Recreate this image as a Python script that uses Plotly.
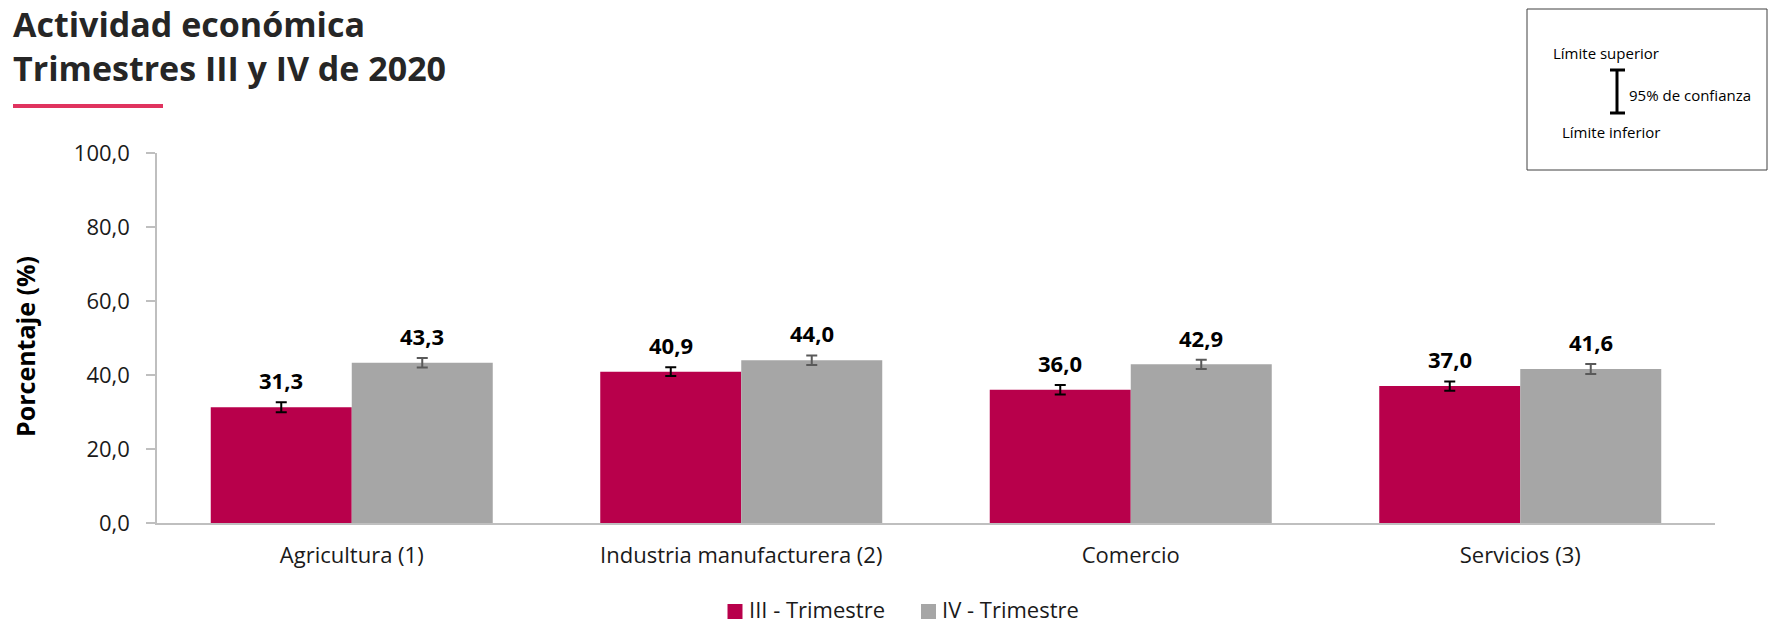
import plotly.graph_objects as go

categories = ["Agricultura (1)", "Industria manufacturera (2)", "Comercio", "Servicios (3)"]
series_names = ["III - Trimestre", "IV - Trimestre"]
values_iii = [31.3, 40.9, 36.0, 37.0]
values_iv = [43.3, 44.0, 42.9, 41.6]
err_iii = [1.35, 1.2, 1.3, 1.25]
err_iv = [1.27, 1.3, 1.25, 1.35]
y_ticks = [0, 20, 40, 60, 80, 100]

W, H = 1770, 623
L, R, T, B = 157, 55, 153, 100
PW, PH = W - L - R, H - T - B

def px(x):
    return (x - L) / PW

def py(y):
    return (H - B - y) / PH

RED = "#B8004B"
GREY = "#A6A6A6"
FONT = "Open Sans, Noto Sans, sans-serif"

fig = go.Figure()
fig.add_trace(go.Bar(
    x=categories, y=values_iii, name=series_names[0],
    marker=dict(color=RED, line=dict(width=0)),
    error_y=dict(type="data", array=err_iii, visible=True, color="#000000", thickness=2, width=5.5),
))
fig.add_trace(go.Bar(
    x=categories, y=values_iv, name=series_names[1],
    marker=dict(color=GREY, line=dict(width=0)),
    error_y=dict(type="data", array=err_iv, visible=True, color="#595959", thickness=2, width=5.5),
))

bar_px = (1 - 0.276) / 2 * PW / len(categories)
annotations = []
for vals, errs, shift in [(values_iii, err_iii, -bar_px / 2), (values_iv, err_iv, bar_px / 2)]:
    for c, v, e in zip(categories, vals, errs):
        annotations.append(dict(
            x=c, y=v + e, xref="x", yref="y", text=f"{v:.1f}".replace(".", ","),
            showarrow=False, xshift=shift, yshift=5, yanchor="bottom",
            font=dict(family=FONT, size=22, color="#000000", weight="bold"),
        ))

# Title (two lines)
annotations.append(dict(
    xref="paper", yref="paper", x=px(11), y=py(46.5), xanchor="left", yanchor="middle",
    text="Actividad económica<br>Trimestres III y IV de 2020", align="left", showarrow=False,
    font=dict(family=FONT, size=34, color="#262626", weight="bold"),
))
# Y axis title
annotations.append(dict(
    xref="paper", yref="paper", x=px(25), y=py(347), xanchor="center", yanchor="middle",
    text="Porcentaje (%)", textangle=-90, showarrow=False,
    font=dict(family=FONT, size=25, color="#000000", weight="bold"),
))
# Confidence-interval key box texts
key_font = dict(family=FONT, size=15, color="#000000")
annotations += [
    dict(xref="paper", yref="paper", x=px(1551), y=py(53), xanchor="left", yanchor="middle",
         text="Límite superior", showarrow=False, font=key_font),
    dict(xref="paper", yref="paper", x=px(1627), y=py(95), xanchor="left", yanchor="middle",
         text="95% de confianza", showarrow=False, font=key_font),
    dict(xref="paper", yref="paper", x=px(1560), y=py(132), xanchor="left", yanchor="middle",
         text="Límite inferior", showarrow=False, font=key_font),
]
# Custom legend
legend_font = dict(family=FONT, size=22, color="#1a1a1a")
legend_items = [(series_names[0], RED, 727.5), (series_names[1], GREY, 921)]
shapes = []
for name, col, x0 in legend_items:
    shapes.append(dict(type="rect", xref="paper", yref="paper", x0=px(x0), x1=px(x0 + 15),
                       y0=py(604), y1=py(619), fillcolor=col, line=dict(width=0)))
    annotations.append(dict(xref="paper", yref="paper", x=px(x0 + 19), y=py(608.5), xanchor="left",
                            yanchor="middle", text=name, showarrow=False, font=legend_font))

shapes += [
    # red underline under title
    dict(type="rect", xref="paper", yref="paper", x0=px(13), x1=px(163), y0=py(104), y1=py(108),
         fillcolor="#E0335F", line=dict(width=0)),
    # key box
    dict(type="rect", xref="paper", yref="paper", x0=px(1527), x1=px(1767), y0=py(9), y1=py(170),
         line=dict(color="#404040", width=1), fillcolor="rgba(0,0,0,0)"),
    # I-beam
    dict(type="line", xref="paper", yref="paper", x0=px(1617), x1=px(1617), y0=py(70), y1=py(113),
         line=dict(color="#000000", width=3)),
    dict(type="line", xref="paper", yref="paper", x0=px(1610), x1=px(1625), y0=py(70), y1=py(70),
         line=dict(color="#000000", width=3)),
    dict(type="line", xref="paper", yref="paper", x0=px(1610), x1=px(1625), y0=py(113), y1=py(113),
         line=dict(color="#000000", width=3)),
]

fig.update_layout(
    width=W, height=H,
    margin=dict(l=L, r=R, t=T, b=B, pad=0, autoexpand=False),
    paper_bgcolor="white", plot_bgcolor="white",
    barmode="group", bargap=0.276, bargroupgap=0,
    separators=",.",
    font=dict(family=FONT, color="#1a1a1a"),
    showlegend=False,
    annotations=annotations,
    shapes=shapes,
)
fig.update_yaxes(
    range=[0, 100], tickvals=y_ticks, tickformat=".1f", automargin=False,
    showgrid=False, zeroline=False,
    showline=True, linecolor="#BFBFBF", linewidth=1.5,
    ticks="outside", ticklen=9, tickcolor="#BFBFBF", tickwidth=1.5,
    ticklabelstandoff=12,
    tickfont=dict(family=FONT, size=22, color="#1a1a1a"),
)
fig.update_xaxes(
    automargin=False,
    showgrid=False, showline=True, linecolor="#BFBFBF", linewidth=1.5,
    ticks="", tickfont=dict(family=FONT, size=22, color="#1a1a1a"),
    ticklabelstandoff=12,
)

fig.write_html("out.html", config={"displayModeBar": False},
               post_script="document.body.style.margin='0px';")
